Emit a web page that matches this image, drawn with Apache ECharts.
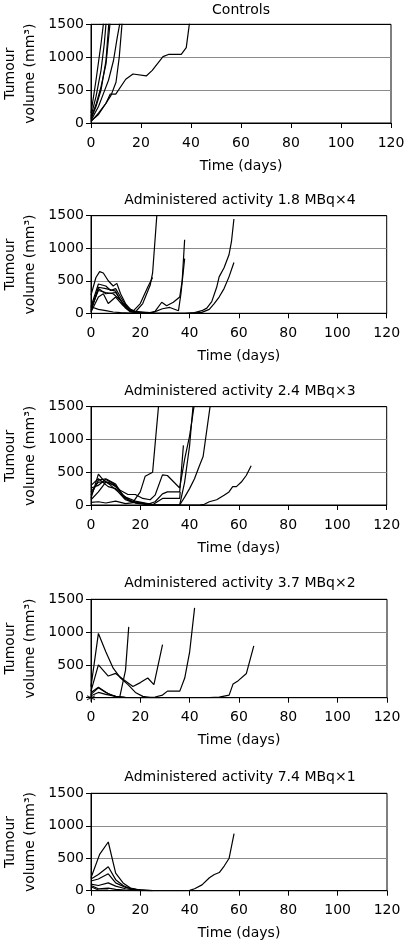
<!DOCTYPE html>
<html>
<head>
<meta charset="utf-8">
<script src="https://cdn.jsdelivr.net/npm/echarts@6/dist/echarts.min.js"></script>
<style>html,body{margin:0;padding:0;background:#fff}#c{width:408px;height:946px}</style>
</head>
<body>
<div id="c"></div>
<script>
// ---- data: [day, tumour volume mm3] per mouse ----
const panelTitles = ['Controls', 'Administered activity 1.8 MBq\u00d74', 'Administered activity 2.4 MBq\u00d73', 'Administered activity 3.7 MBq\u00d72', 'Administered activity 7.4 MBq\u00d71'];
const xTicks = [0, 20, 40, 60, 80, 100, 120];
const yTicks = [0, 500, 1000, 1500];

const controls = [
  [[0,150],[2,650],[4,1200],[5.1,1550]],
  [[0,100],[2,400],[4,800],[5.3,1200],[6.1,1550]],
  [[0,60],[2,250],[4,500],[6,950],[7.2,1550]],
  [[0,80],[2,280],[4,550],[6,900],[7.7,1550]],
  [[0,40],[3,250],[5,450],[7,650],[9,950],[10.5,1300],[11.7,1550]],
  [[0,20],[3,150],[6,300],[8,420],[10,620],[11.3,1000],[12.5,1550]],
  [[0,30],[3,130],[6,300],[7.7,440],[9.9,440],[13.9,665],[16.8,745],[22.1,715],[24.5,800],[28.8,1008],[31.2,1044],[36.1,1044],[38.1,1145],[39.5,1550]]
];
const dose18 = [
  [[0,280],[2,550],[3.5,640],[5,620],[7,500],[9,420],[10.5,460],[12,300],[14,150],[16,60],[18,20],[22,5],[25,0]],
  [[0,100],[3,450],[6,420],[8,350],[10,380],[12,250],[14,130],[16,50],[18,20],[22,10],[25,10],[29,70],[32,90],[35.5,40],[36.5,300],[38,840]],
  [[0,50],[3,400],[6,380],[10,340],[12,200],[14,80],[16,20],[20,0],[40,0],[45,15],[48,60],[50,150],[52,250],[54,380],[56,560],[58,780]],
  [[0,30],[3,380],[6,300],[10,320],[13,150],[16,60],[18,30],[21,20],[24,10],[26,30],[28.7,170],[30.7,115],[33.4,170],[36,250],[37,500],[38,1130]],
  [[0,20],[3,250],[5,300],[7,150],[10,250],[13,120],[16,30],[18,20],[21,150],[24,430],[25,620],[26.8,1550]],
  [[0,80],[3,350],[6,320],[9,300],[12,200],[15,60],[17,30],[20,150],[23,400],[25,550]],
  [[0,100],[3,60],[6,40],[9,20],[12,10],[16,5],[20,0],[38,0],[42,10],[45,40],[47,80],[49,180],[51,400],[52,560],[54,700],[56,900],[57,1100],[58,1450]]
];
const dose24 = [
  [[0,100],[3,470],[5,380],[8,300],[11,200],[14,80],[17,40],[20,200],[22,440],[25,500],[27.5,1550]],
  [[0,260],[3,300],[6,390],[9,330],[12,220],[15,160],[18,160],[21,100],[24,80],[26,150],[29,460],[31,450],[36,260],[38,700],[40,1050],[42,1550]],
  [[0,200],[3,350],[7,350],[10,280],[13,150],[16,60],[20,30],[23,10],[26,50],[29,170],[31,200],[36,200],[37.5,910]],
  [[0,150],[3,380],[6,400],[10,320],[13,130],[15,80],[18,40],[22,20],[25,5],[29,100],[36,100],[36.2,200]],
  [[0,40],[3,50],[6,30],[10,60],[14,20],[18,40],[22,20],[26,0],[36,0],[38,350],[40,900],[41.5,1550]],
  [[0,300],[3,400],[7,280],[10,250],[14,120],[18,60],[22,30],[26,0],[36,0],[38,120],[40,250],[42,400],[44,600],[45.5,740],[48.5,1550]],
  [[0,80],[3,200],[6,350],[10,300],[14,100],[18,30],[22,10],[26,0],[44,0],[46,10],[48,50],[51,80],[54,150],[56,200],[57.5,280],[59,280],[61,350],[63,450],[65,600]]
];
const dose37 = [
  [[0,170],[3,980],[6,700],[9,450],[12,300],[15,200],[18,80],[21,20],[24,0],[28,0]],
  [[0,100],[3,500],[7,330],[10,370],[13,280],[17,170],[20,230],[23,300],[25.5,200],[29,810]],
  [[0,50],[3,150],[6,80],[9,30],[11.6,0],[14,420],[15.3,1080]],
  [[0,80],[3,160],[7,60],[10,20],[14,5],[20,0],[26,10],[29,40],[31,100],[36,100],[38,300],[40,700],[42,1370]],
  [[0,30],[3,80],[6,50],[10,20],[14,0],[48,0],[52,10],[56,40],[57.6,210],[59.7,260],[63,370],[66,790]]
];
const dose37Star = [[0,0]];
const dose74 = [
  [[0,200],[3.5,560],[7,750],[10,270],[13,120],[16,40],[20,10],[25,0]],
  [[0,180],[3,250],[7,370],[10,170],[13,80],[16,30],[20,10],[25,0]],
  [[0,150],[3,180],[7,260],[10,120],[14,50],[18,20],[22,5]],
  [[0,100],[3,80],[7,120],[10,70],[14,30],[18,10],[24,0],[36,0],[40,5],[42,30],[45,90],[48,200],[50,250],[52,280],[54,380],[56,500],[58,880]],
  [[0,80],[3,30],[7,40],[10,20],[14,10],[20,0],[105,0]],
  [[0,60],[3,10],[7,10]]
];
const panels = [controls, dose18, dose24, dose37, dose74];

// ---- layout ----
const FONT = 'DejaVu Sans';
const grids = [
  {left: 91, top: 24.3, width: 300, height: 98.7},
  {left: 91, top: 215.7, width: 295.7, height: 97.6},
  {left: 91, top: 406.7, width: 295.7, height: 98.3},
  {left: 91, top: 599.3, width: 296, height: 98.4},
  {left: 91, top: 793.3, width: 296, height: 97.4}
];
const titleY = [10.5, 200, 391.7, 583.3, 777];
const titleX = [241, 240, 240, 240, 240];

const option = {
  animation: false,
  backgroundColor: '#fff',
  grid: grids.map(g => Object.assign({show: true, borderColor: '#000', borderWidth: 1, backgroundColor: 'transparent', containLabel: false, outerBoundsMode: 'none'}, g)),
  xAxis: grids.map((g, i) => ({
    type: 'value', gridIndex: i, min: xTicks[0], max: xTicks[xTicks.length - 1], interval: 20,
    name: 'Time (days)', nameLocation: 'middle', nameGap: 36, nameMoveOverlap: false,
    nameTextStyle: {fontFamily: FONT, fontSize: 14, color: '#000'},
    axisLine: {show: true, lineStyle: {color: '#000', width: 1}},
    axisTick: {show: true, inside: false, length: 5, lineStyle: {color: '#000'}},
    axisLabel: {fontFamily: FONT, fontSize: 14, color: '#000', margin: 13, formatter: v => String(v)},
    splitLine: {show: false}
  })),
  yAxis: grids.map((g, i) => ({
    type: 'value', gridIndex: i, min: yTicks[0], max: yTicks[yTicks.length - 1], interval: 500,
    name: 'Tumour\nvolume (mm\u00b3)', nameLocation: 'middle', nameRotate: 90, nameGap: 51, nameMoveOverlap: false,
    nameTextStyle: {fontFamily: FONT, fontSize: 14, color: '#000', lineHeight: 20, align: 'center'},
    axisLine: {show: true, lineStyle: {color: '#000', width: 1}},
    axisTick: {show: true, inside: false, length: 5, lineStyle: {color: '#000'}},
    axisLabel: {fontFamily: FONT, fontSize: 14, color: '#000', margin: 7, formatter: v => String(v)},
    splitLine: {show: true, lineStyle: {color: ['#000', '#8a8a8a', '#8a8a8a', '#000'], width: 1}}
  })),
  graphic: panelTitles.map((t, i) => ({
    type: 'text', x: titleX[i], y: titleY[i], silent: true,
    style: {text: t, font: '14px "' + FONT + '"', fill: '#000', textAlign: 'center', textVerticalAlign: 'middle'}
  })),
  series: []
};

panels.forEach((lines, i) => {
  lines.forEach(d => {
    option.series.push({
      type: 'line', xAxisIndex: i, yAxisIndex: i, data: d, symbol: 'none', showSymbol: false,
      clip: true, silent: true, lineStyle: {color: '#000', width: 1.2}
    });
  });
});
option.series.push({
  type: 'scatter', xAxisIndex: 3, yAxisIndex: 3, data: dose37Star, silent: true, clip: false,
  symbol: 'path://M0,-5L0,5M-4.3,-2.5L4.3,2.5M-4.3,2.5L4.3,-2.5', symbolSize: 8,
  itemStyle: {color: 'none', borderColor: '#000', borderWidth: 1.2}
});

const chart = echarts.init(document.getElementById('c'), null, {renderer: 'canvas'});
chart.setOption(option);
</script>
</body>
</html>
